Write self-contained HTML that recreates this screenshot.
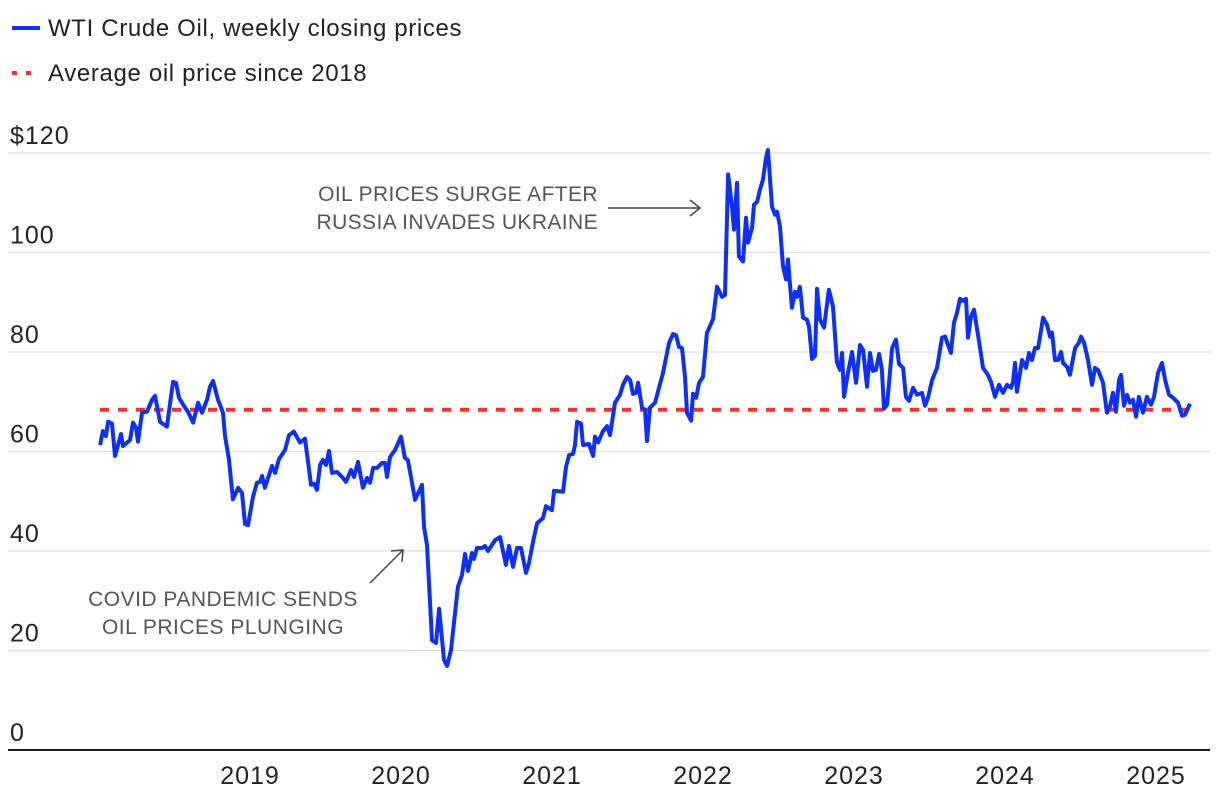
<!DOCTYPE html>
<html><head><meta charset="utf-8">
<style>
html,body{margin:0;padding:0;background:#fff;}
body{width:1220px;height:800px;overflow:hidden;font-family:"Liberation Sans",sans-serif;}
svg text{font-family:"Liberation Sans",sans-serif;}
</style></head>
<body>
<svg id="chart" width="1220" height="800">
  <g>
    <g>
      <line x1="12" y1="28" x2="40" y2="28" stroke="#0a2fff" stroke-width="4"/>
      <text x="48" y="36" font-size="24" letter-spacing="0.65" fill="#222">WTI Crude Oil, weekly closing prices</text>
    </g>
    <g>
      <line x1="12" y1="73" x2="40" y2="73" stroke="#f23030" stroke-width="4" stroke-dasharray="5,9"/>
      <text x="48" y="81" font-size="24" letter-spacing="0.65" fill="#222">Average oil price since 2018</text>
    </g>
  </g>
  <g id="grid"></g>
  <g id="yticks"></g>
  <g id="xticks"></g>
  <line id="avgLine"/>
  <path id="series" fill="none" stroke="#0a2fff" stroke-width="4" stroke-linejoin="round"/>
  <g>
    <text x="598" y="201" font-size="21" letter-spacing="0.4" fill="#555" text-anchor="end">OIL PRICES SURGE AFTER</text>
    <text x="598" y="229" font-size="21" letter-spacing="0.4" fill="#555" text-anchor="end">RUSSIA INVADES UKRAINE</text>
    <line x1="608" y1="208" x2="700" y2="208" stroke="#444" stroke-width="1.5"/>
    <polyline points="690,200 700,208 690,216" fill="none" stroke="#444" stroke-width="1.5"/>
  </g>
  <g>
    <text x="223" y="606" font-size="21" letter-spacing="0.5" fill="#555" text-anchor="middle">COVID PANDEMIC SENDS</text>
    <text x="223" y="634" font-size="21" letter-spacing="0.5" fill="#555" text-anchor="middle">OIL PRICES PLUNGING</text>
    <line x1="370" y1="583" x2="403" y2="550" stroke="#444" stroke-width="1.5"/>
    <polyline points="391,551 403,550 402,562" fill="none" stroke="#444" stroke-width="1.5"/>
  </g>
</svg>
<script>
const yTicks = [0, 20, 40, 60, 80, 100, 120];
const yTickLabels = ["0", "20", "40", "60", "80", "100", "$120"];
const xYears = [2019, 2020, 2021, 2022, 2023, 2024, 2025];
const averagePrice = 68.4;
const yearsSince2018 = [0.007,0.026,0.046,0.060,0.086,0.106,0.146,0.159,0.205,0.225,0.245,0.258,0.285,0.318,0.351,0.371,0.404,0.450,0.490,0.510,0.530,0.570,0.589,0.623,0.656,0.682,0.715,0.735,0.755,0.788,0.821,0.834,0.861,0.887,0.921,0.947,0.967,0.987,1.020,1.046,1.066,1.080,1.099,1.146,1.166,1.192,1.232,1.258,1.291,1.331,1.364,1.404,1.424,1.444,1.464,1.483,1.503,1.523,1.543,1.576,1.609,1.636,1.669,1.689,1.715,1.748,1.775,1.795,1.815,1.841,1.874,1.894,1.907,1.927,1.960,2.000,2.026,2.046,2.073,2.093,2.139,2.152,2.172,2.205,2.232,2.252,2.285,2.305,2.331,2.377,2.404,2.424,2.444,2.470,2.483,2.503,2.536,2.556,2.576,2.623,2.656,2.695,2.715,2.742,2.768,2.795,2.828,2.848,2.874,2.901,2.940,2.960,3.000,3.013,3.073,3.093,3.113,3.139,3.152,3.166,3.192,3.205,3.245,3.272,3.285,3.305,3.338,3.364,3.384,3.417,3.450,3.470,3.497,3.517,3.536,3.556,3.570,3.596,3.616,3.629,3.649,3.682,3.735,3.775,3.801,3.821,3.841,3.861,3.881,3.894,3.921,3.934,3.954,3.974,4.000,4.026,4.066,4.093,4.126,4.146,4.166,4.192,4.205,4.225,4.238,4.265,4.285,4.298,4.325,4.338,4.358,4.377,4.397,4.417,4.430,4.457,4.477,4.490,4.510,4.530,4.550,4.563,4.589,4.609,4.623,4.642,4.662,4.689,4.702,4.722,4.742,4.755,4.775,4.801,4.834,4.861,4.887,4.907,4.921,4.934,4.960,4.987,5.013,5.040,5.060,5.086,5.106,5.126,5.146,5.166,5.185,5.199,5.219,5.252,5.278,5.298,5.325,5.344,5.364,5.391,5.417,5.450,5.470,5.490,5.517,5.550,5.583,5.603,5.642,5.662,5.682,5.702,5.722,5.742,5.755,5.775,5.795,5.834,5.854,5.887,5.907,5.934,5.960,5.987,6.013,6.040,6.053,6.066,6.079,6.113,6.139,6.159,6.179,6.199,6.219,6.252,6.278,6.298,6.311,6.331,6.351,6.371,6.384,6.411,6.430,6.464,6.490,6.503,6.523,6.550,6.576,6.596,6.616,6.649,6.675,6.695,6.715,6.735,6.755,6.768,6.788,6.808,6.828,6.848,6.868,6.887,6.914,6.940,6.967,6.987,7.013,7.040,7.060,7.086,7.113,7.146,7.172,7.192,7.225];
const prices = [61.3,64.1,63.1,66,65.6,59.1,63.5,61.1,62.3,65.8,64.8,62,67.8,68,70.4,71.2,66,65,74,73.8,70.8,68.8,68,65.8,69.8,67.8,70.4,73,74.2,70.4,67.8,63.3,58.3,50.4,52.7,51.7,45.4,45.2,50.9,53.7,53.9,55.1,52.7,57.1,55.7,58.5,60.3,63.3,64,61.8,62.6,53.3,53.5,52.3,57.3,58.3,57.3,60.1,55.7,55.9,54.9,53.9,56.3,54.9,57.9,52.7,54.7,53.7,56.7,56.7,57.7,57.7,54.9,58.9,60.3,63,58.7,58.3,53.7,50.3,53.3,44.8,41.2,22.1,21.5,28.4,18.1,16.9,20.1,32.8,35.2,39.4,36,39.6,38.4,40.6,40.6,41,40,42.2,42.8,37.2,41,36.8,40.6,40.6,35.6,37.6,41.8,45.6,46.6,49,48.2,52.1,51.9,56.9,59.3,59.5,61.3,66,65.6,61.3,61.5,59.1,63,61.8,64.1,65.1,63.3,69.8,71.4,73.4,75,74.4,71.6,71.8,73.8,68.8,68.4,62.1,68.8,69.8,75.8,81.8,83.6,83.4,81,80.8,75,67.8,66.2,71.6,70.8,73.8,75,83.8,86.6,93.1,91.1,91.5,115.7,109.2,104.6,114,99.2,98.2,107,102,105,109.6,110.2,112.6,114.6,119,120.6,109.2,107.6,108.2,105.2,97.2,94.6,98.6,88.9,92.1,91.1,93.1,86.9,86.5,85.1,78.6,79.2,92.7,86.5,84.9,92.5,89.1,77.9,76.4,79.8,71,75.8,80,73.8,81.4,80.4,73,79.8,76.2,76.4,79.6,76.4,68.6,69.4,80.8,82.5,77.6,76.8,71,70.2,72.8,71.4,71.8,69.2,70.8,74.4,76.8,82.9,83.1,79.8,85.9,87.9,90.7,90.3,90.7,82.9,87.1,88.5,81,76.8,75.4,74,71,73.4,71.8,73.4,72.8,74,77.8,72,78.4,76.8,79.8,78.4,80.8,80.8,86.9,85.5,83.1,83.9,78.4,78.4,80,77.8,77,75.4,80.8,81.9,83.1,81.9,78.4,73.4,76.8,76.4,73.8,67.8,69,71.8,68,74.4,75.4,69.2,71.4,69.8,70.4,67,71,67.8,71,69.4,71,75.8,77.8,74.4,71.4,70.8,69.8,67.2,67.4,69.6];

const NS = "http://www.w3.org/2000/svg";
const X0 = 99, YEARPX = 151, Y0 = 750, PX_PER_UNIT = 4.975;
const xScale = t => X0 + t * YEARPX;
const yScale = v => Y0 - v * PX_PER_UNIT;

const grid = document.getElementById('grid');
const yt = document.getElementById('yticks');
yTicks.forEach((v, i) => {
  const l = document.createElementNS(NS, 'line');
  
  
  l.setAttribute('x1', 8); l.setAttribute('x2', 1210);
  l.setAttribute('y1', yScale(v)); l.setAttribute('y2', yScale(v));
  l.setAttribute('stroke', v === 0 ? '#1a1a1a' : '#e3e3e3');
  l.setAttribute('stroke-width', v === 0 ? 2 : 1.5);
  grid.appendChild(l);
  const t = document.createElementNS(NS, 'text');
  
  
  t.setAttribute('x', 10); t.setAttribute('y', yScale(v) - 9);
  t.setAttribute('font-size', 25); t.setAttribute('letter-spacing', 1); t.setAttribute('fill', '#222');
  t.textContent = yTickLabels[i];
  yt.appendChild(t);
});
const xt = document.getElementById('xticks');
xYears.forEach(y => {
  const t = document.createElementNS(NS, 'text');
  
  
  t.setAttribute('x', xScale(y - 2018)); t.setAttribute('y', 784);
  t.setAttribute('text-anchor', 'middle');
  t.setAttribute('font-size', 25); t.setAttribute('letter-spacing', 1); t.setAttribute('fill', '#222');
  t.textContent = y;
  xt.appendChild(t);
});
const avg = document.getElementById('avgLine');
avg.setAttribute('x1', 100); avg.setAttribute('x2', 1192);
avg.setAttribute('y1', yScale(averagePrice)); avg.setAttribute('y2', yScale(averagePrice));
avg.setAttribute('stroke', '#f23030'); avg.setAttribute('stroke-width', 4);
avg.setAttribute('stroke-dasharray', '9,9');
let d = '';
yearsSince2018.forEach((t, i) => {
  d += (i ? 'L' : 'M') + xScale(t).toFixed(1) + ',' + yScale(prices[i]).toFixed(1);
});
document.getElementById('series').setAttribute('d', d);
</script>
</body></html>
